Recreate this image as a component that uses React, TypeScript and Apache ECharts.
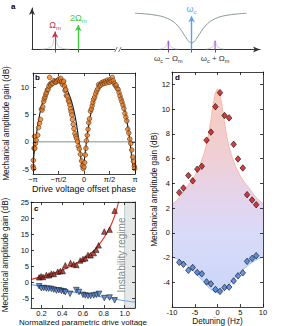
import React, { useEffect, useRef } from 'react';
import * as echarts from 'echarts';

// ---------------- Panel a : schematic spectrum ----------------
const aCavityX = [45.2, 50, 55, 58, 61, 63, 65, 66.5, 68, 69, 70, 71, 72, 73.5, 75, 77, 79, 82, 85, 90, 94.2];
const aCavityY = [0.875, 0.857, 0.821, 0.78, 0.706, 0.624, 0.499, 0.376, 0.248, 0.184, 0.16, 0.184, 0.248, 0.376, 0.499, 0.624, 0.706, 0.78, 0.821, 0.857, 0.873];
const aMechPeakX = [4, 7, 8.5, 9.3, 10.1, 10.9, 11.7, 13.2, 16.2];
const aMechPeakY = [0.01, 0.03, 0.07, 0.16, 0.43, 0.16, 0.07, 0.03, 0.01];
const aLowerSideX = [55.8, 58, 59, 59.8, 60.6, 61.6, 63.8];
const aUpperSideX = [76.3, 78.5, 79.5, 80.3, 81.1, 82.1, 84.3];
const aSideY = [0.01, 0.04, 0.09, 0.21, 0.09, 0.04, 0.01];
const aArrowX = [10.1, 20.3, 70];
const aArrowTop = [0.43, 0.59, 0.8];
const aArrowBase = ['Ω', '2Ω', 'ω'];
const aArrowSub = ['m', 'm', 'c'];
const aArrowColors = ['#d0304a', '#3ccc3c', '#5a9ef6'];
const aSidebandX = [59.8, 80.3];
const aSidebandTop = [0.21, 0.21];
const aSidebandLabels = ['{w|ω}{s|c}{w| − Ω}{s|m}', '{w|ω}{s|c}{w| + Ω}{s|m}'];
const aTickX = [10.1, 20.3, 59.8, 70, 80.3];
const aBreakX = 37.7;

// ---------------- Panel b : gain vs phase ----------------
const bPhase = [-3.14, -3.12, -3.10, -3.08, -3.05, -3.03, -2.99, -2.95, -2.85, -2.80, -2.74, -2.68, -2.62, -2.58, -2.54, -2.48, -2.44, -2.40, -2.35, -2.31, -2.26, -2.21, -2.16, -2.12, -2.08, -2.04, -1.98, -1.92, -1.85, -1.79, -1.73, -1.67, -1.60, -1.54, -1.48, -1.43, -1.38, -1.33, -1.28, -1.25, -1.20, -1.17, -1.12, -1.09, -1.03, -0.96, -0.92, -0.87, -0.83, -0.79, -0.75, -0.71, -0.66, -0.62, -0.56, -0.50, -0.45, -0.40, -0.34, -0.29, -0.22, -0.15, -0.10, -0.05, 0.00, 0.04, 0.08, 0.12, 0.15, 0.20, 0.25, 0.29, 0.34, 0.40, 0.45, 0.50, 0.55, 0.60, 0.66, 0.72, 0.78, 0.85, 0.90, 0.96, 1.02, 1.08, 1.14, 1.20, 1.26, 1.32, 1.38, 1.45, 1.50, 1.56, 1.62, 1.68, 1.74, 1.80, 1.86, 1.92, 1.98, 2.04, 2.10, 2.16, 2.22, 2.28, 2.34, 2.40, 2.46, 2.52, 2.58, 2.64, 2.70, 2.76, 2.82, 2.88, 2.94, 3.00, 3.05, 3.10, 3.12];
const bGain = [-4.5, -3.4, -4.9, -1.2, 1.0, -1.2, -0.3, 0.3, 1.2, 2.6, 3.4, 4.1, 6.0, 5.8, 6.4, 7.4, 7.9, 8.2, 8.7, 9.0, 9.5, 9.6, 10.2, 11.8, 10.6, 10.4, 10.8, 10.7, 11.2, 11.0, 10.9, 11.1, 11.3, 11.5, 11.1, 11.6, 11.0, 10.5, 10.9, 11.1, 10.2, 9.4, 9.6, 8.5, 8.3, 7.6, 7.3, 6.7, 6.0, 5.5, 4.9, 4.1, 3.2, 2.4, 1.5, 1.0, 0.6, 0.05, -0.8, -1.3, -2.3, -3.5, -4.4, -4.9, -4.6, -3.8, -2.4, -1.2, 0.2, 1.2, 2.3, 3.5, 4.2, 5.6, 6.0, 6.6, 7.2, 7.8, 8.2, 8.8, 9.3, 9.7, 10.5, 10.2, 10.4, 10.8, 10.6, 11.0, 10.7, 11.1, 10.8, 11.3, 11.0, 10.9, 11.4, 11.1, 11.8, 11.2, 10.7, 10.3, 10.4, 9.8, 9.6, 9.0, 8.4, 7.8, 7.3, 6.7, 6.1, 5.2, 4.5, 3.8, 2.3, 1.6, 0.5, -0.3, -1.5, -2.8, -3.6, -4.5, -4.9];
const bFitPhase = [-3.1416, -3.07, -3.02, -2.97, -2.92, -2.87, -2.77, -2.67, -2.57, -2.47, -2.37, -2.27, -2.17, -2.07, -1.97, -1.87, -1.77, -1.65, -1.48, -1.38, -1.28, -1.18, -1.08, -0.98, -0.88, -0.78, -0.68, -0.58, -0.48, -0.38, -0.33, -0.28, -0.23, -0.18, -0.13, -0.08, -0.03, 0.02, 0.07, 0.12, 0.17, 0.22, 0.32, 0.42, 0.52, 0.62, 0.72, 0.82, 0.92, 1.02, 1.12, 1.22, 1.32, 1.49, 1.66, 1.76, 1.86, 1.96, 2.06, 2.16, 2.26, 2.36, 2.46, 2.56, 2.66, 2.76, 2.81, 2.86, 2.91, 2.96, 3.01, 3.06, 3.1416];
const bFitGain = [-3.79, -2.06, -0.75, 0.49, 1.62, 2.65, 4.40, 5.83, 7.01, 7.98, 8.78, 9.44, 9.98, 10.41, 10.74, 10.97, 11.12, 11.18, 11.06, 10.87, 10.59, 10.21, 9.73, 9.13, 8.40, 7.52, 6.45, 5.15, 3.57, 1.62, 0.49, -0.75, -2.06, -3.33, -4.34, -4.73, -4.34, -3.33, -2.06, -0.75, 0.49, 1.62, 3.57, 5.15, 6.45, 7.52, 8.40, 9.13, 9.73, 10.21, 10.59, 10.87, 11.06, 11.18, 11.06, 10.87, 10.59, 10.21, 9.73, 9.13, 8.40, 7.52, 6.45, 5.15, 3.57, 1.62, 0.49, -0.75, -2.06, -3.33, -4.34, -4.73, -3.79];
const bPhaseTicks = [-Math.PI, -Math.PI / 2, 0, Math.PI / 2, Math.PI];
const bPhaseTickLabels = ['−π', '−π/2', '0', 'π/2', 'π'];
const bGainTicks = [-5, 0, 5, 10];

// ---------------- Panel c : gain vs drive voltage ----------------
const cDriveUp = [0.178, 0.197, 0.216, 0.248, 0.274, 0.296, 0.319, 0.357, 0.382, 0.405, 0.43, 0.48, 0.51, 0.536, 0.574, 0.6, 0.622, 0.648, 0.674, 0.703, 0.728, 0.75, 0.805, 0.856, 0.904];
const cGainUp = [1.55, 1.86, 1.65, 2.27, 2.17, 2.7, 2.58, 3.32, 3.5, 3.5, 5.28, 6.0, 5.6, 5.4, 6.8, 7.25, 7.45, 8.5, 8.4, 9.1, 10.15, 11.5, 15.8, 16.4, 22.3];
const cDriveDown = [0.178, 0.2, 0.223, 0.248, 0.27, 0.296, 0.319, 0.344, 0.367, 0.392, 0.415, 0.43, 0.475, 0.536, 0.562, 0.6, 0.622, 0.648, 0.674, 0.703, 0.728, 0.754, 0.805, 0.856, 0.904];
const cGainDown = [-1.24, -1.86, -1.77, -1.97, -1.97, -2.07, -2.28, -2.59, -2.48, -2.69, -2.8, -3.1, -3.6, -2.4, -3.0, -3.9, -4.1, -4.25, -4.25, -4.1, -3.9, -3.6, -4.9, -4.75, -5.6];
const cFitUpX = [0.1, 0.15, 0.2, 0.25, 0.3, 0.35, 0.4, 0.45, 0.5, 0.55, 0.6, 0.65, 0.7, 0.75, 0.8, 0.85, 0.88, 0.9, 0.92, 0.94, 0.95];
const cFitUpY = [0.9, 1.3, 1.75, 2.2, 2.7, 3.2, 3.8, 4.5, 5.3, 6.2, 7.2, 8.4, 9.8, 11.6, 13.8, 16.5, 18.6, 20.3, 22.3, 24.7, 26.2];
const cFitDownX = [0.1, 0.2, 0.3, 0.4, 0.5, 0.6, 0.7, 0.8, 0.9, 1.0, 1.1];
const cFitDownY = [-0.7, -1.3, -1.9, -2.45, -3.0, -3.55, -4.1, -4.65, -5.15, -5.75, -6.2];
const cDriveTicks = [0.2, 0.4, 0.6, 0.8, 1.0];
const cGainTicks = [-5, 0, 5, 10, 15, 20, 25];
const cInstabilityRange = [1.0, 1.1];

// ---------------- Panel d : gain vs detuning ----------------
const dDetuning = [-8.4, -7.5, -6.4, -5.45, -4.45, -3.45, -2.4, -1.45, -0.45, 0.55, 1.55, 2.55, 3.55, 4.5, 5.55, 6.5, 7.6, 8.5];
const dGainUp = [3.26, 3.62, 4.63, 4.2, 5.14, 5.38, 7.49, 8.14, 10.2, 11.33, 9.48, 9.29, 7.15, 5.97, 5.24, 3.08, 2.65, 2.27];
const dGainDown = [-2.39, -2.55, -3.03, -2.81, -3.21, -3.32, -3.97, -4.13, -4.58, -4.74, -4.42, -4.39, -3.89, -3.48, -3.24, -2.31, -2.07, -1.85];
const dEnvX = [-10, -9, -8, -7, -6, -5, -4, -3, -2.5, -2, -1.5, -1, -0.5, 0, 0.5, 1, 1.5, 2, 2.5, 3, 4, 5, 6, 7, 8, 9, 10];
const dEnvUpper = [2.3, 2.6, 3.05, 3.6, 4.05, 4.6, 5.35, 6.35, 7.0, 7.9, 9.0, 10.3, 11.3, 11.65, 11.3, 10.3, 9.0, 7.9, 7.0, 6.35, 5.35, 4.6, 4.05, 3.6, 3.05, 2.65, 2.35];
const dEnvLower = [-1.95, -2.1, -2.3, -2.55, -2.85, -3.2, -3.6, -4.0, -4.2, -4.4, -4.55, -4.7, -4.8, -4.85, -4.8, -4.7, -4.55, -4.4, -4.2, -4.0, -3.6, -3.2, -2.85, -2.55, -2.3, -2.1, -1.95];
const dDetuningTicks = [-10, -5, 0, 5, 10];
const dGainTicks = [-4, -2, 0, 2, 4, 6, 8, 10, 12];

const FONT = '"Liberation Sans", Arial, Helvetica, sans-serif';
const AX = '#111';
const zip = (xs: number[], ys: number[]) => xs.map((x, i) => [x, ys[i]]);

function frame(gridIndex: number, dim: 'x' | 'y', min: number, max: number, ticks: number[], fmt: any, name: string, nameGap: number, nameSize: number, margin: number) {
  const line = { show: true, onZero: false, lineStyle: { color: AX, width: 0.8 } };
  const tick = { show: true, inside: true, length: 3, customValues: ticks, lineStyle: { color: AX, width: 0.8 } };
  const common = { type: 'value', gridIndex, min, max, splitLine: { show: false }, z: 6, axisLine: line, axisTick: tick };
  return [
    {
      ...common,
      position: dim === 'x' ? 'bottom' : 'left',
      axisLabel: { show: true, customValues: ticks, formatter: fmt, fontSize: 7.5, lineHeight: 8, color: '#111', margin, fontFamily: FONT, showMinLabel: true, showMaxLabel: true, hideOverlap: false },
      name, nameLocation: 'middle', nameGap, nameMoveOverlap: false,
      nameTextStyle: { fontSize: nameSize, lineHeight: nameSize + 1, color: '#111', fontFamily: FONT },
    },
    { ...common, position: dim === 'x' ? 'top' : 'right', axisLabel: { show: false } },
  ];
}

function buildOption() {
  const subRich = (color: string, big: number, small: number) => ({
    w: { fontSize: big, color, fontFamily: FONT, lineHeight: big + 3 },
    s: { fontSize: small, color, fontFamily: FONT, verticalAlign: 'bottom', lineHeight: small + 1 },
  });

  const bX = frame(1, 'x', -Math.PI, Math.PI, bPhaseTicks,
    (v: number) => bPhaseTickLabels[bPhaseTicks.findIndex((t) => Math.abs(t - v) < 1e-6)] ?? '',
    'Drive voltage offset phase', 10, 9, 1.5);
  const bY = frame(1, 'y', -5.9, 12.6, bGainTicks, (v: number) => String(v), 'Mechanical amplitude gain (dB)', 22, 8.2, 4);
  const cX = frame(2, 'x', 0.1, 1.1, cDriveTicks, (v: number) => v.toFixed(1), 'Normalized parametric drive voltage', 9.5, 8, 1);
  const cY = frame(2, 'y', -8, 25, cGainTicks, (v: number) => String(v), 'Mechanical amplitude gain (dB)', 21, 8.2, 2);
  const dX = frame(3, 'x', -10, 10, dDetuningTicks, (v: number) => String(v), 'Detuning (Hz)', 9.5, 8.2, 1);
  const dY = frame(3, 'y', -6, 13, dGainTicks, (v: number) => String(v), 'Mechanical amplitude gain (dB)', 13, 8.2, 2);

  const aX = {
    type: 'value', gridIndex: 0, min: 0, max: 100, position: 'bottom',
    splitLine: { show: false },
    axisLine: { show: true, onZero: false, symbol: ['none', 'arrow'], symbolSize: [4.5, 7], lineStyle: { color: '#333', width: 1 } },
    axisTick: { show: true, inside: false, length: 3, customValues: aTickX, lineStyle: { color: '#333', width: 0.8 } },
    axisLabel: {
      show: true, customValues: aSidebandX, margin: 3, showMinLabel: true, showMaxLabel: true, hideOverlap: false,
      formatter: (v: number) => aSidebandLabels[aSidebandX.findIndex((t) => Math.abs(t - v) < 1e-6)] ?? '',
      rich: subRich('#333', 8, 5.5),
    },
  };
  const aY = {
    type: 'value', gridIndex: 0, min: 0, max: 1, position: 'left',
    splitLine: { show: false }, axisTick: { show: false }, axisLabel: { show: false },
    axisLine: { show: true, onZero: false, symbol: ['none', 'arrow'], symbolSize: [4.5, 7], lineStyle: { color: '#333', width: 1 } },
  };

  const arrowLines = aArrowX.map((x, i) => [
    {
      coord: [x, 0],
      lineStyle: { color: aArrowColors[i], width: i === 0 ? 1 : 1.4, type: 'solid' },
      label: {
        show: true, position: 'end', distance: 1,
        formatter: `{w|${aArrowBase[i]}}{s|${aArrowSub[i]}}`,
        rich: subRich(aArrowColors[i], 9, 6),
      },
    },
    { coord: [x, aArrowTop[i]] },
  ]);

  const envelopeGradient = new echarts.graphic.LinearGradient(0, 0, 0, 1, [
    { offset: 0, color: '#f7cabd' },
    { offset: 0.35, color: '#efd0d6' },
    { offset: 0.55, color: '#e3d4ee' },
    { offset: 0.72, color: '#d8dbf8' },
    { offset: 1, color: '#cbd6fa' },
  ]);

  return {
    animation: false,
    backgroundColor: '#fff',
    textStyle: { fontFamily: FONT },
    grid: [
      { left: 32, top: 8, width: 228, height: 41.5, outerBoundsMode: 'none' },
      { left: 33, top: 73, width: 102, height: 101, outerBoundsMode: 'none' },
      { left: 31, top: 202, width: 104, height: 106, outerBoundsMode: 'none' },
      { left: 172, top: 72, width: 91, height: 235, outerBoundsMode: 'none' },
    ],
    xAxis: [aX, ...bX, ...cX, ...dX],
    yAxis: [aY, ...bY, ...cY, ...dY],
    graphic: [
      { type: 'text', left: 11, top: 2, style: { text: 'a', font: 'bold 8px ' + FONT, fill: '#000' } },
      { type: 'text', left: 35, top: 73, style: { text: 'b', font: 'bold 8px ' + FONT, fill: '#000' } },
      { type: 'text', left: 34, top: 204, style: { text: 'c', font: 'bold 8px ' + FONT, fill: '#000' } },
      { type: 'text', left: 175, top: 73, style: { text: 'd', font: 'bold 8px ' + FONT, fill: '#000' } },
    ],
    series: [
      // ----- panel a -----
      {
        type: 'line', xAxisIndex: 0, yAxisIndex: 0, data: zip(aMechPeakX, aMechPeakY), smooth: 0.4,
        symbol: 'none', lineStyle: { color: '#bcc4c4', width: 0.8 }, silent: true,
      },
      {
        type: 'line', xAxisIndex: 0, yAxisIndex: 0, data: zip(aLowerSideX, aSideY), smooth: 0.4,
        symbol: 'none', lineStyle: { color: '#c4c0d4', width: 0.8 }, silent: true,
      },
      {
        type: 'line', xAxisIndex: 0, yAxisIndex: 0, data: zip(aUpperSideX, aSideY), smooth: 0.4,
        symbol: 'none', lineStyle: { color: '#c4c0d4', width: 0.8 }, silent: true,
      },
      ...aSidebandX.map((x, i) => ({
        type: 'line', xAxisIndex: 0, yAxisIndex: 0, data: [[x, 0], [x, aSidebandTop[i]]],
        symbol: 'none', lineStyle: { color: '#9a5ae0', width: 1.2 }, silent: true, z: 3,
      })),
      {
        type: 'line', xAxisIndex: 0, yAxisIndex: 0, data: zip(aCavityX, aCavityY), smooth: 0.3,
        symbol: 'none', lineStyle: { color: '#8a9a98', width: 1 }, silent: true,
        markLine: {
          silent: true, symbol: ['none', 'arrow'], symbolSize: [5, 6], precision: 3,
          lineStyle: { type: 'solid' }, emphasis: { disabled: true },
          data: arrowLines,
        },
      },
      // ----- panel b -----
      {
        type: 'line', xAxisIndex: 1, yAxisIndex: 1, data: [[-Math.PI, 0], [Math.PI, 0]],
        symbol: 'none', lineStyle: { color: '#a8b6b4', width: 1.4 }, silent: true, z: 2,
      },
      {
        type: 'line', xAxisIndex: 1, yAxisIndex: 1, data: zip(bFitPhase, bFitGain), smooth: 0.2,
        symbol: 'none', lineStyle: { color: '#1a1a1a', width: 1.1 }, silent: true, z: 3,
      },
      {
        type: 'scatter', xAxisIndex: 1, yAxisIndex: 1, data: zip(bPhase, bGain), symbol: 'circle', symbolSize: 4.6,
        itemStyle: { color: '#f2801f', borderColor: '#3a2a20', borderWidth: 0.7 }, silent: true, z: 4,
      },
      // ----- panel c -----
      {
        type: 'line', xAxisIndex: 3, yAxisIndex: 3, data: zip(cFitUpX, cFitUpY), smooth: 0.3,
        symbol: 'none', lineStyle: { color: '#e8281e', width: 1.1 }, silent: true, z: 3,
        markArea: {
          silent: true,
          itemStyle: { color: '#e4e8e6', borderColor: '#a8b0ae', borderWidth: 0.6 },
          label: { show: true, position: 'inside', rotate: 90, formatter: 'Instability regime', color: '#848c8c', fontSize: 10, fontFamily: FONT, offset: [0, -8] },
          data: [[{ xAxis: cInstabilityRange[0] }, { xAxis: cInstabilityRange[1] }]],
        },
      },
      {
        type: 'line', xAxisIndex: 3, yAxisIndex: 3, data: zip(cFitDownX, cFitDownY), smooth: 0.3,
        symbol: 'none', lineStyle: { color: '#78a8f0', width: 1.2 }, silent: true, z: 3,
      },
      {
        type: 'scatter', xAxisIndex: 3, yAxisIndex: 3, data: zip(cDriveUp, cGainUp), symbol: 'triangle', symbolSize: 5.5,
        itemStyle: { color: '#a82018', borderColor: '#111', borderWidth: 0.7 }, silent: true, z: 4,
      },
      {
        type: 'scatter', xAxisIndex: 3, yAxisIndex: 3, data: zip(cDriveDown, cGainDown), symbol: 'triangle', symbolRotate: 180, symbolSize: 5.5,
        itemStyle: { color: '#4a80d8', borderColor: '#111', borderWidth: 0.7 }, silent: true, z: 4,
      },
      // ----- panel d -----
      {
        type: 'custom', xAxisIndex: 5, yAxisIndex: 5, data: [[0, 0]], silent: true, z: 1,
        renderItem: (params: any, api: any) => {
          if (params.dataIndex !== 0) return null;
          const up = dEnvX.map((x, i) => api.coord([x, dEnvUpper[i]]));
          const lo = dEnvX.map((x, i) => api.coord([x, dEnvLower[i]]));
          return {
            type: 'group',
            children: [
              { type: 'polygon', shape: { points: up.concat(lo.slice().reverse()) }, style: { fill: envelopeGradient } },
              { type: 'polyline', shape: { points: up }, style: { stroke: '#f5ae9e', lineWidth: 0.8, fill: 'none' } },
              { type: 'polyline', shape: { points: lo }, style: { stroke: '#94b4f0', lineWidth: 0.8, fill: 'none' } },
            ],
          };
        },
      },
      {
        type: 'scatter', xAxisIndex: 5, yAxisIndex: 5, data: zip(dDetuning, dGainUp), symbol: 'diamond', symbolSize: [5.5, 6.5],
        itemStyle: { color: '#d00c0c', borderColor: '#111', borderWidth: 0.8 }, silent: true, z: 4,
      },
      {
        type: 'scatter', xAxisIndex: 5, yAxisIndex: 5, data: zip(dDetuning, dGainDown), symbol: 'diamond', symbolSize: [5.5, 6.5],
        itemStyle: { color: '#3c7ad8', borderColor: '#111', borderWidth: 0.8 }, silent: true, z: 4,
      },
    ],
  };
}

export default function App() {
  const ref = useRef<HTMLDivElement>(null);
  useEffect(() => {
    const chart = echarts.init(ref.current as HTMLDivElement, null, { renderer: 'svg' });
    const option: any = buildOption();
    chart.setOption(option);
    // axis-break mark "//" placed through the panel-a scale
    const p = chart.convertToPixel({ gridIndex: 0 } as any, [aBreakX, 0]) as number[];
    if (p && isFinite(p[0])) {
      chart.setOption({
        graphic: [
          ...option.graphic,
          { type: 'rect', x: p[0] - 3, y: p[1] - 2, shape: { width: 6, height: 4 }, style: { fill: '#fff' }, z: 20 },
          { type: 'line', shape: { x1: p[0] - 3.2, y1: p[1] + 2.5, x2: p[0] - 0.6, y2: p[1] - 2.5 }, style: { stroke: '#555', lineWidth: 0.8 }, z: 21 },
          { type: 'line', shape: { x1: p[0] + 0.6, y1: p[1] + 2.5, x2: p[0] + 3.2, y2: p[1] - 2.5 }, style: { stroke: '#555', lineWidth: 0.8 }, z: 21 },
        ],
      });
    }
    return () => chart.dispose();
  }, []);
  return (
    <div
      ref={ref}
      style={{ position: 'fixed', left: 0, top: 0, width: 287, height: 326, background: '#fff' }}
    />
  );
}
